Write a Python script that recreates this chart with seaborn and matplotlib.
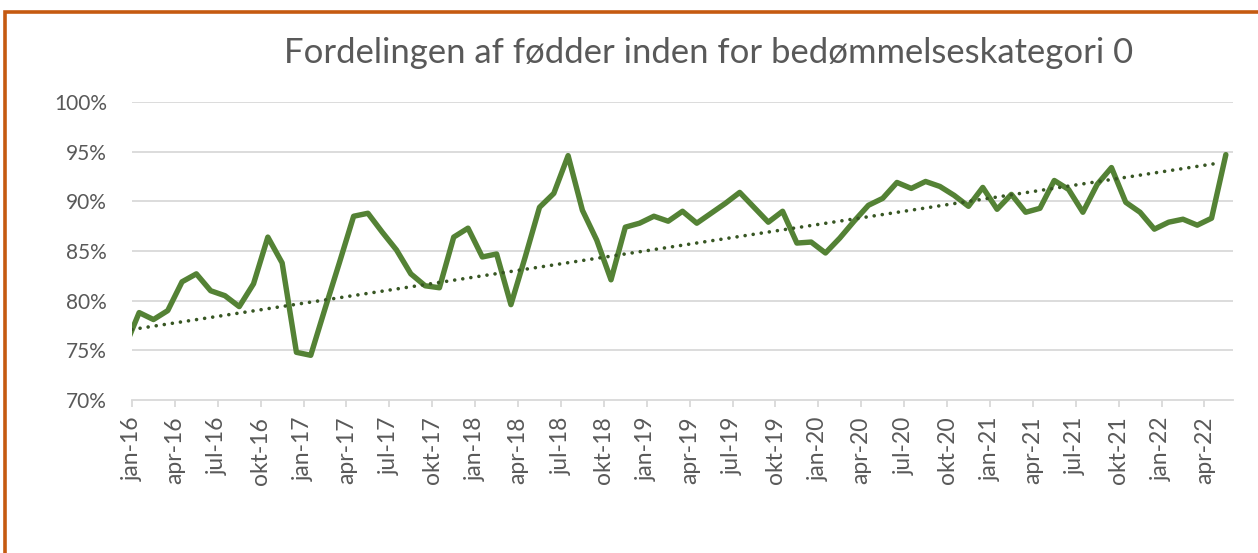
import numpy as np
import pandas as pd
import seaborn as sns
import matplotlib.pyplot as plt
from matplotlib.patches import Rectangle

# Andel (%) pr. måned: dec-15 (klippes af aksen) og jan-16 .. maj-22
andel = [75.3,
         78.8, 78.1, 79.0, 81.9, 82.7, 81.0, 80.5, 79.4, 81.7, 86.4, 83.8, 74.8,
         74.5, 79.2, 83.8, 88.5, 88.8, 86.9, 85.1, 82.7, 81.5, 81.3, 86.4, 87.3,
         84.4, 84.7, 79.6, 84.4, 89.4, 90.8, 94.6, 89.1, 86.1, 82.1, 87.4, 87.8,
         88.5, 88.0, 89.0, 87.8, 88.8, 89.8, 90.9, 89.4, 87.9, 89.0, 85.8, 85.9,
         84.8, 86.3, 88.0, 89.6, 90.3, 91.9, 91.3, 92.0, 91.5, 90.6, 89.5, 91.4,
         89.2, 90.7, 88.9, 89.3, 92.1, 91.2, 88.9, 91.7, 93.4, 89.9, 88.9, 87.2,
         87.9, 88.2, 87.6, 88.3, 94.7]

# lineær tendenslinje (start ved jan-16, slut ved maj-22)
trend_maaned = [0.0, 76.0]
trend_andel = [77.1, 93.85]

tick_labels = ['jan-16', 'apr-16', 'jul-16', 'okt-16',
               'jan-17', 'apr-17', 'jul-17', 'okt-17',
               'jan-18', 'apr-18', 'jul-18', 'okt-18',
               'jan-19', 'apr-19', 'jul-19', 'okt-19',
               'jan-20', 'apr-20', 'jul-20', 'okt-20',
               'jan-21', 'apr-21', 'jul-21', 'okt-21',
               'jan-22', 'apr-22']
y_ticks = [70, 75, 80, 85, 90, 95, 100]

titel = 'Fordelingen af fødder inden for bedømmelseskategori 0'

# månedsindeks, punkterne ligger midt i hver måned (dec-15 = -1)
df = pd.DataFrame({'maaned': np.arange(len(andel)) - 1 + 0.5, 'andel': andel})
trend = pd.DataFrame({'maaned': trend_maaned, 'andel': trend_andel})

sns.set_theme(style='white')
plt.rcParams['font.family'] = ['Lato', 'DejaVu Sans']

W, H = 1258, 553
fig = plt.figure(figsize=(W / 100, H / 100), dpi=100)
ax = fig.add_axes([132 / W, 1 - 400 / H, (1233 - 132) / W, 298 / H])

grey = '#D9D9D9'
txt = '#595959'

for v in y_ticks[1:]:
    ax.axhline(v, color=grey, lw=1.3, zorder=0)

sns.lineplot(data=df, x='maaned', y='andel', ax=ax, color='#548235', lw=3.9,
             solid_joinstyle='round', solid_capstyle='round', zorder=3)
sns.lineplot(data=trend, x='maaned', y='andel', ax=ax, color='#375623', lw=2.6,
             linestyle=(0, (0.01, 2.25)), dash_capstyle='round', zorder=4)

ax.set_xlim(0, 77)
ax.set_ylim(70, 100)
ax.set_xticks(np.arange(0, 78, 3))
ax.set_xticklabels(tick_labels, rotation=90, fontsize=16.5, color=txt)
ax.set_yticks(y_ticks)
ax.set_yticklabels([f'{v}%' for v in y_ticks], fontsize=15, color=txt)
ax.set_xlabel('')
ax.set_ylabel('')

for s in ['top', 'right', 'left']:
    ax.spines[s].set_visible(False)
ax.spines['bottom'].set_color(grey)
ax.spines['bottom'].set_linewidth(1.3)
ax.tick_params(axis='x', bottom=True, direction='out', length=5, width=1.3,
               color=grey, pad=7)
ax.tick_params(axis='y', left=False, pad=12)

fig.text(709 / W, 1 - 53 / H, titel, ha='center', va='center',
         fontsize=24.9, color=txt)

# orange ramme (kun top og venstre synlig)
fig.add_artist(Rectangle((5 / W, -0.2), 1.2, 0.2 + (H - 12) / H,
                         transform=fig.transFigure, fill=False,
                         edgecolor='#C55A11', lw=2.6, clip_on=False))

fig.savefig('out.png', dpi=100)
